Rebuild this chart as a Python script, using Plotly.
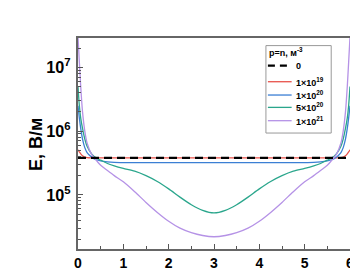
import plotly.graph_objects as go

x_pos = [0, 0.03, 0.06, 0.1, 0.15, 0.2, 0.3, 0.4, 0.5, 0.65, 0.8, 1.0, 1.25, 1.5, 1.75, 2.0,
         2.25, 2.5, 2.75, 3.0, 3.25, 3.5, 3.75, 4.0, 4.25, 4.5, 4.75, 5.0, 5.2, 5.35, 5.5,
         5.6, 5.7, 5.8, 5.85, 5.9, 5.94, 5.97, 6.0]

e_zero_x = [0, 6]
e_zero = [3.8e5, 3.8e5]

e_1e19 = [5.1e5, 4.7e5, 4.4e5, 4.1e5, 3.9e5, 3.83e5, 3.8e5, 3.8e5, 3.8e5, 3.8e5, 3.8e5, 3.8e5,
          3.8e5, 3.8e5, 3.8e5, 3.8e5, 3.8e5, 3.8e5, 3.8e5, 3.8e5,
          3.8e5, 3.8e5, 3.8e5, 3.8e5, 3.8e5, 3.8e5, 3.8e5, 3.8e5, 3.8e5, 3.8e5, 3.8e5, 3.8e5,
          3.8e5, 3.83e5, 3.9e5, 4.1e5, 4.4e5, 4.7e5, 5.1e5]

e_1e20 = [2.5e6, 1.6e6, 1.1e6, 7.5e5, 5.5e5, 4.6e5, 3.9e5, 3.55e5, 3.4e5, 3.28e5, 3.22e5, 3.2e5,
          3.2e5, 3.2e5, 3.2e5, 3.2e5, 3.2e5, 3.2e5, 3.2e5, 3.2e5,
          3.2e5, 3.2e5, 3.2e5, 3.2e5, 3.2e5, 3.2e5, 3.2e5, 3.2e5, 3.22e5, 3.28e5, 3.4e5, 3.55e5,
          3.9e5, 4.6e5, 5.5e5, 7.5e5, 1.1e6, 1.6e6, 2.5e6]

e_5e20 = [5e6, 2.5e6, 1.6e6, 1.1e6, 7.5e5, 5.8e5, 4.4e5, 3.8e5, 3.5e5, 3.1e5, 2.85e5, 2.6e5,
          2.35e5, 2.0e5, 1.62e5, 1.24e5, 9.2e4, 7.0e4, 5.7e4, 5.2e4,
          5.7e4, 7.0e4, 9.2e4, 1.24e5, 1.62e5, 2.0e5, 2.35e5, 2.6e5, 2.85e5, 3.1e5, 3.5e5, 3.8e5,
          4.4e5, 5.8e5, 7.5e5, 1.1e6, 1.6e6, 2.5e6, 5e6]

e_1e21 = [3e7, 1.2e7, 5e6, 2.0e6, 1.0e6, 6.5e5, 4.3e5, 3.5e5, 2.9e5, 2.4e5, 2.0e5, 1.6e5,
          1.12e5, 7.6e4, 5.3e4, 3.85e4, 3.0e4, 2.55e4, 2.3e4, 2.2e4,
          2.3e4, 2.55e4, 3.0e4, 3.85e4, 5.3e4, 7.6e4, 1.12e5, 1.6e5, 2.0e5, 2.4e5, 2.9e5, 3.5e5,
          4.3e5, 6.5e5, 1.0e6, 2.0e6, 5e6, 1.2e7, 3e7]

y_title = "E, В/м"
legend_title = "p=n, м<sup>-3</sup>"
names = ["0", "1×10<sup>19</sup>", "1×10<sup>20</sup>", "5×10<sup>20</sup>", "1×10<sup>21</sup>"]
colors = ["#000000", "#e8524a", "#3b7fd4", "#2aa68c", "#b592e6"]

FONT = "Liberation Sans"

fig = go.Figure()
for ys, nm, c in zip([e_1e19, e_1e20, e_5e20, e_1e21], names[1:], colors[1:]):
    fig.add_trace(go.Scatter(x=x_pos, y=ys, mode="lines", name=nm, showlegend=False,
                             line=dict(color=c, width=1.3, shape="spline", smoothing=0.8)))
fig.add_trace(go.Scatter(x=e_zero_x, y=e_zero, mode="lines", name=names[0], showlegend=False,
                         line=dict(color=colors[0], width=2.4, dash="8px,5px")))


def px_x(p):
    return (p - 70) / 275.0


def px_y(p):
    return (252 - p) / 222.0


# compact legend box
fig.add_shape(type="rect", xref="paper", yref="paper",
              x0=px_x(260), x1=px_x(326), y0=px_y(130), y1=px_y(38),
              line=dict(color="#999", width=1), fillcolor="white", layer="above")
fig.add_annotation(xref="paper", yref="paper", x=px_x(261), y=px_y(45),
                   text="<b>" + legend_title + "</b>", showarrow=False,
                   xanchor="left", yanchor="middle", font=dict(size=9, family=FONT))
row_y = [59, 76, 90, 103, 117]
for i, (nm, c) in enumerate(zip(names, colors)):
    yy = px_y(row_y[i])
    fig.add_shape(type="line", xref="paper", yref="paper",
                  x0=px_x(262), x1=px_x(286), y0=yy, y1=yy, layer="above",
                  line=dict(color=c, width=2.2 if i == 0 else 1.3,
                            dash="7px,5px" if i == 0 else "solid"))
    fig.add_annotation(xref="paper", yref="paper", x=px_x(288), y=yy,
                       text="<b>" + nm + "</b>", showarrow=False,
                       xanchor="left", yanchor="middle", font=dict(size=9, family=FONT))

# y-axis title
fig.add_annotation(xref="paper", yref="paper", x=px_x(28), y=px_y(142),
                   text="<b>" + y_title + "</b>", showarrow=False, textangle=-90,
                   xanchor="center", yanchor="middle", font=dict(size=18, family=FONT))

fig.update_layout(
    width=358, height=275,
    margin=dict(l=70, r=13, t=30, b=23),
    plot_bgcolor="white", paper_bgcolor="white",
    font=dict(family=FONT, color="black"),
    showlegend=False,
)
fig.update_xaxes(
    range=[0, 6], dtick=1, ticks="inside", ticklen=5, tickcolor="#555",
    minor=dict(ticks="inside", ticklen=3, dtick=0.5, tickcolor="#555"),
    showline=True, linecolor="#666", linewidth=1.5, mirror=True,
    showgrid=False, zeroline=False,
    tickfont=dict(size=14, family=FONT, weight="bold"),
)
fig.update_yaxes(
    type="log", range=[4.15, 7.46], dtick=1, exponentformat="power",
    ticks="inside", ticklen=5, tickcolor="#555",
    minor=dict(ticks="inside", ticklen=3, dtick="D1", tickcolor="#555"),
    showline=True, linecolor="#666", linewidth=1.5, mirror=True,
    showgrid=False, zeroline=False, ticklabelstandoff=3,
    tickfont=dict(size=13, family=FONT, weight="bold"),
)

fig.write_html("out.html")
